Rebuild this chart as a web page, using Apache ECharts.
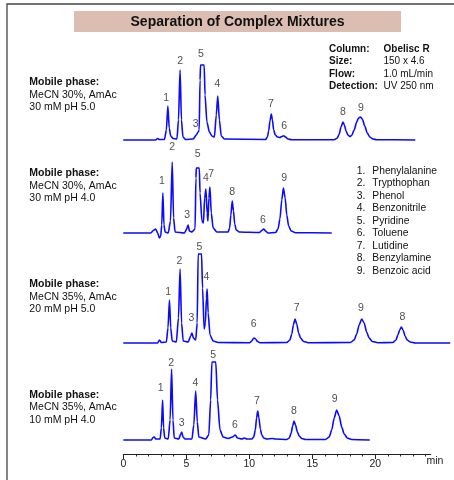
<!DOCTYPE html>
<html><head><meta charset="utf-8">
<script src="https://cdn.jsdelivr.net/npm/echarts@6/dist/echarts.min.js"></script>
<style>html,body{margin:0;padding:0;background:#fff}#c{width:454px;height:480px}</style>
</head><body><div id="c"></div>
<script>
// ---- data (time in min, signal in arbitrary units) ----
const traceA = [[0,0],[2.6,0],[2.75,1.5],[2.9,0.5],[3.3,0.5],[3.45,10],[3.57,34],[3.68,12],[3.8,4],[4.0,1.5],[4.3,1],[4.42,20],[4.55,70],[4.66,20],[4.78,3],[5.0,0.5],[5.6,1],[5.85,5],[6.0,8],[6.08,10],[6.15,60],[6.19,75],[6.48,75],[6.55,45],[6.7,18],[6.9,8],[7.1,4],[7.3,3],[7.45,25],[7.57,44],[7.7,20],[7.85,4],[8.1,1],[11.4,0.5],[11.55,3],[11.65,9],[11.75,19],[11.86,26],[11.95,20],[12.05,10],[12.18,5],[12.35,3],[12.55,2.5],[12.7,3.5],[12.85,4.3],[13.0,3],[13.2,1],[13.5,0.3],[16.9,0.3],[17.15,2],[17.3,6],[17.45,13],[17.6,18],[17.72,15],[17.85,9],[18.0,5],[18.15,3.5],[18.3,4.5],[18.5,10],[18.7,18],[18.85,22],[19.0,23],[19.15,21],[19.35,14],[19.55,7],[19.75,3],[20.0,1],[20.3,0.3],[23.4,0]];
const traceB = [[0,0],[2.2,0],[2.45,3],[2.6,4],[2.75,0],[2.9,-5],[3.0,-3],[3.08,8],[3.17,40],[3.26,8],[3.35,1],[3.6,0],[3.78,12],[3.92,71],[4.03,15],[4.15,1],[4.9,0],[5.08,4],[5.19,8],[5.3,2],[5.5,1],[5.75,4],[5.82,55],[5.85,65],[6.09,65],[6.15,40],[6.3,12],[6.42,10],[6.52,35],[6.62,44],[6.72,20],[6.78,12],[6.86,35],[6.94,46],[7.05,20],[7.2,5],[7.5,1],[8.4,1],[8.52,5],[8.62,18],[8.73,32],[8.83,22],[8.93,9],[9.05,3],[9.3,1],[10.9,0.5],[11.1,2.5],[11.25,4],[11.4,2],[11.6,0],[12.2,0.5],[12.4,4],[12.55,14],[12.7,33],[12.83,45],[12.97,35],[13.1,18],[13.25,7],[13.45,2],[13.8,0.3],[16.7,0]];
const traceC = [[0,0],[2.75,0],[2.9,3],[3.05,0.5],[3.45,1],[3.58,15],[3.7,43],[3.8,15],[3.92,2],[4.25,1],[4.42,25],[4.55,74],[4.67,20],[4.8,2],[5.2,1],[5.4,7],[5.5,10],[5.62,5],[5.8,3],[5.92,20],[6.0,89],[6.27,89],[6.35,55],[6.48,14],[6.58,20],[6.66,45],[6.72,54],[6.8,30],[6.95,8],[7.2,2],[7.6,0.5],[10.15,0.3],[10.3,2],[10.42,4.5],[10.5,5],[10.6,4],[10.75,1.5],[10.95,0.3],[13.1,0.5],[13.35,3],[13.5,9],[13.63,18],[13.76,24],[13.9,19],[14.05,10],[14.2,5],[14.45,1.5],[14.8,0.3],[18.2,0.5],[18.5,3],[18.7,9],[18.9,18],[19.1,24],[19.3,20],[19.5,11],[19.7,5],[19.95,1.5],[20.4,0.3],[21.6,0.5],[21.85,3],[22.0,8],[22.15,13],[22.28,16],[22.42,13],[22.58,7],[22.75,3],[23.0,1],[23.4,0],[26.2,0]];
const traceD = [[0,0],[2.25,0],[2.38,2.5],[2.48,3],[2.6,1],[2.95,1],[3.05,12],[3.15,40],[3.23,12],[3.32,2],[3.6,1],[3.75,20],[3.87,71],[3.98,20],[4.08,2],[4.45,1],[4.6,6],[4.68,8],[4.78,3],[4.95,1],[5.5,1],[5.65,15],[5.8,49],[5.93,18],[6.05,3],[6.6,1],[6.85,5],[7.0,40],[7.1,78],[7.41,78],[7.55,40],[7.75,10],[8.0,3],[8.4,1.5],[8.75,3],[8.97,5],[9.15,2],[9.5,1],[9.7,2],[9.9,1],[10.3,1],[10.45,3],[10.58,10],[10.68,22],[10.77,29],[10.87,22],[10.98,11],[11.1,5],[11.25,2],[11.5,1],[11.96,1.5],[12.2,1],[13.1,0.5],[13.3,2],[13.45,7],[13.57,14],[13.68,19],[13.8,15],[13.95,8],[14.1,4],[14.3,1.5],[14.6,0.5],[16.2,0.5],[16.5,3],[16.7,10],[16.9,22],[17.1,30],[17.3,24],[17.5,13],[17.7,6],[17.95,2],[18.3,0.5],[19.75,0]];

// peak number labels: [time, signal level of label centre, text]
const labelsA = [[3.44,41.7,'1'],[4.55,79.3,'2'],[5.79,15.7,'3'],[6.22,85.7,'5'],[7.54,55.7,'4'],[11.83,35.7,'7'],[12.89,14.3,'6'],[17.59,28,'8'],[19.05,32.3,'9']];
const labelsB = [[3.1,52.3,'1'],[3.92,85.7,'2'],[5.11,18,'3'],[5.95,79,'5'],[6.62,55.3,'4'],[7.04,58.7,'7'],[8.73,40.7,'8'],[11.19,13,'6'],[12.89,55.3,'9']];
const labelsC = [[3.6,50.7,'1'],[4.5,82.3,'2'],[5.45,24.7,'3'],[6.09,96.3,'5'],[6.67,66.3,'4'],[10.45,19,'6'],[13.89,34.7,'7'],[19.05,34.7,'9'],[22.36,26.3,'8']];
const labelsD = [[2.99,52.3,'1'],[3.84,77.3,'2'],[4.68,16.7,'3'],[5.77,56.7,'4'],[7.2,85,'5'],[8.94,15.3,'6'],[10.71,39.3,'7'],[13.68,29,'8'],[16.93,41,'9']];

const phases = [['MeCN 30%, AmAc','30 mM pH 5.0'],['MeCN 30%, AmAc','30 mM pH 4.0'],['MeCN 35%, AmAc','20 mM pH 5.0'],['MeCN 35%, AmAc','10 mM pH 4.0']];
const compounds = ['Phenylalanine','Trypthophan','Phenol','Benzonitrile','Pyridine','Toluene','Lutidine','Benzylamine','Benzoic acid'];
const columnKeys = ['Column:','Size:','Flow:','Detection:'];
const columnVals = ['Obelisc R','150 x 4.6','1.0 mL/min','UV 250 nm'];
const majorTicks = [0,5,10,15,20];
const minorTicks = [1,2,3,4,6,7,8,9,11,12,13,14,16,17,18,19,21,22,23,24];
const titleText = 'Separation of Complex Mixtures';

// ---- layout ----
const FONT = "'Liberation Sans', Arial, sans-serif";
const X0 = 123.3, PPM = 12.6;           // px of t=0, px per minute
const TMAX = 26.5, AXMAX = 24.4;
const baselines = [140, 233, 343, 440];
const YMIN = -10, YMAX = 100;
const traces = [traceA, traceB, traceC, traceD];
const labels = [labelsA, labelsB, labelsC, labelsD];
const BLUE = '#0a0aff';

const grids = [], xAxes = [], yAxes = [], series = [];
baselines.forEach((b, i) => {
  grids.push({left: X0, top: b - YMAX, width: TMAX * PPM, height: YMAX - YMIN});
  xAxes.push({type: 'value', gridIndex: i, min: 0, max: TMAX, show: false});
  yAxes.push({type: 'value', gridIndex: i, min: YMIN, max: YMAX, show: false});
  series.push({type: 'line', xAxisIndex: i, yAxisIndex: i, data: traces[i], showSymbol: false,
    smooth: 0.25, smoothMonotone: 'x', lineStyle: {color: BLUE, width: 1.6}, silent: true, animation: false});
  series.push({type: 'scatter', xAxisIndex: i, yAxisIndex: i, data: labels[i], symbolSize: 1,
    itemStyle: {color: 'rgba(0,0,0,0)'}, silent: true, animation: false,
    label: {show: true, position: 'inside', formatter: p => p.value[2], color: '#222', fontSize: 10.5, fontFamily: FONT}});
});
// axis grid
grids.push({left: X0, top: 440, width: AXMAX * PPM, height: 14});
xAxes.push({type: 'value', gridIndex: 4, min: 0, max: AXMAX, position: 'bottom',
  axisLine: {show: true, lineStyle: {color: '#222', width: 1}},
  axisTick: {show: true, length: 5, customValues: majorTicks, lineStyle: {color: '#222'}},
  axisLabel: {show: true, customValues: majorTicks, color: '#222', fontSize: 10.5, fontFamily: FONT, margin: 5},
  splitLine: {show: false}});
xAxes.push({type: 'value', gridIndex: 4, min: 0, max: AXMAX, position: 'bottom',
  axisLine: {show: false},
  axisTick: {show: true, length: 2.5, customValues: minorTicks, lineStyle: {color: '#222'}},
  axisLabel: {show: false}, splitLine: {show: false}});
yAxes.push({type: 'value', gridIndex: 4, show: false, min: 0, max: 1});

const graphic = [];
// frame
graphic.push({type: 'polyline', shape: {points: [[7, 480], [7, 4], [454, 4]]}, style: {stroke: '#444', lineWidth: 1.3, fill: null}, silent: true});
// title
graphic.push({type: 'rect', shape: {x: 74, y: 11, width: 327, height: 21}, style: {fill: '#dbbdb2'}, silent: true});
graphic.push({type: 'text', style: {text: titleText, x: 237.5, y: 22, align: 'center', verticalAlign: 'middle', font: "bold 14px " + FONT, fill: '#111'}, silent: true});
// column info
const colY = [49.3, 61.7, 74, 86.3];
columnKeys.forEach((k, i) => {
  graphic.push({type: 'text', style: {text: k, x: 329, y: colY[i], verticalAlign: 'middle', font: "bold 10px " + FONT, fill: '#111'}, silent: true});
  graphic.push({type: 'text', style: {text: columnVals[i], x: 383.5, y: colY[i], verticalAlign: 'middle', font: (i === 0 ? "bold " : "") + "10px " + FONT, fill: '#111'}, silent: true});
});
// mobile phases
const phaseY = [82.3, 173.3, 284.3, 395];
phases.forEach((p, i) => {
  const y = phaseY[i];
  graphic.push({type: 'text', style: {text: 'Mobile phase:', x: 29.3, y: y, verticalAlign: 'middle', font: "bold 10.5px " + FONT, fill: '#111'}, silent: true});
  graphic.push({type: 'text', style: {text: p[0], x: 29.3, y: y + 12.6, verticalAlign: 'middle', font: "10.5px " + FONT, fill: '#111'}, silent: true});
  graphic.push({type: 'text', style: {text: p[1], x: 29.3, y: y + 25.2, verticalAlign: 'middle', font: "10.5px " + FONT, fill: '#111'}, silent: true});
});
// compound list
compounds.forEach((c, i) => {
  const y = 171 + i * 12.5;
  graphic.push({type: 'text', style: {text: (i + 1) + '.', x: 356.7, y: y, verticalAlign: 'middle', font: "10.3px " + FONT, fill: '#111'}, silent: true});
  graphic.push({type: 'text', style: {text: c, x: 372.3, y: y, verticalAlign: 'middle', font: "10.3px " + FONT, fill: '#111'}, silent: true});
});
// axis unit
graphic.push({type: 'text', style: {text: 'min', x: 426.5, y: 461.5, verticalAlign: 'middle', font: "10.5px " + FONT, fill: '#222'}, silent: true});

const chart = echarts.init(document.getElementById('c'), null, {renderer: 'canvas'});
chart.setOption({animation: false, grid: grids, xAxis: xAxes, yAxis: yAxes, series: series, graphic: graphic});
</script></body></html>
